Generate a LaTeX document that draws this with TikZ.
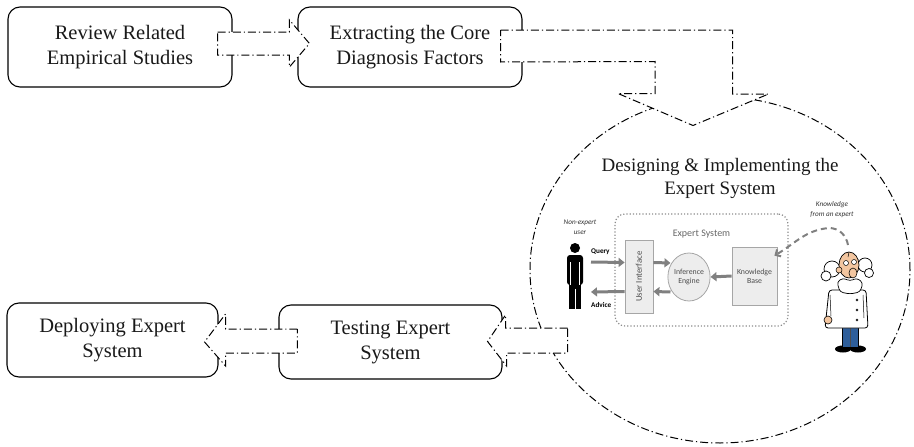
\documentclass[tikz,border=0pt]{standalone}
\usepackage{fontspec}
\setmainfont{Liberation Serif}
\newfontfamily\uifont{Carlito}
\usetikzlibrary{arrows.meta, positioning, shapes.geometric}
\definecolor{skin}{HTML}{F3C6A0}
\definecolor{jeans}{HTML}{2E5E9A}
\tikzset{
    stage/.style={
        rectangle,
        draw=black,
        rounded corners=12pt,
        line width=1.1pt,
        align=center,
        inner sep=0pt,
        text=black!90,
        font=\fontsize{20.5}{25}\selectfont
    },
    phase/.style={
        ellipse,
        draw=black,
        line width=1pt,
        dash pattern=on 8pt off 3pt on 1.2pt off 3pt,
        inner sep=0pt
    },
    % hollow block arrows between the stages
    flowarrow/.style={draw=black, fill=white, line width=1pt,
        dash pattern=on 8pt off 3pt on 1.2pt off 3pt},
    esbox/.style={
        rectangle,
        draw=black!35,
        fill=black!7,
        line width=0.8pt,
        inner sep=0pt,
        align=center,
        text=black!70,
        font=\uifont\fontsize{7.8}{9}\selectfont
    },
    esarrow/.style={draw=black!50, line width=3pt, -{Triangle[length=6pt, width=9pt]}},
    eslabel/.style={align=center, inner sep=0pt, font=\uifont\itshape\fontsize{7.2}{10}\selectfont, text=black!80}
}

\begin{document}
\begin{tikzpicture}[x=1pt, y=-1pt]
    \useasboundingbox (0,0) rectangle (914,447);

    \node[stage, minimum width=224pt, minimum height=80pt] (review) at (120,47) {Review Related\\Empirical Studies};
    \node[stage, minimum width=224pt, minimum height=80pt] (extract) at (410,47) {Extracting the Core\\Diagnosis Factors};
    \node[stage, minimum width=211pt, minimum height=74pt] (deploy) at (112.5,340) {Deploying Expert\\System};
    \node[stage, minimum width=223pt, minimum height=74pt] (testing) at (390.5,342) {Testing Expert\\System};

    \node[phase, minimum width=380pt, minimum height=346pt] (design) at (720,270) {};
    \node[align=center, font=\fontsize{19}{23}\selectfont, text=black!90] (designtitle) at (720,178)
        {Designing \& Implementing the\\Expert System};

    % expert system sketch inside the phase
    \node[draw=black!45, dotted, line width=1.2pt, rounded corners=10pt,
          minimum width=173pt, minimum height=112pt] (es) at (701.5,270) {};
    \node[font=\uifont\fontsize{10}{12}\selectfont, text=black!60, below=16pt of es.north, inner sep=0pt] (estitle) {Expert System};
    \node[esbox, minimum width=28pt, minimum height=73pt] (ui) at (639,276.5)
        {\rotatebox{90}{\fontsize{8.8}{10}\selectfont User Interface}};
    \node[esbox, ellipse, minimum width=38pt, minimum height=48pt] (ie) at (689,277) {Inference\\Engine};
    \node[esbox, minimum width=45pt, minimum height=58pt] (kb) at (754.5,276) {Knowledge\\Base};

    % non-expert user
    \coordinate (user) at (575,276);
    \fill (575,248) circle (5);
    \fill[rounded corners=3pt] (567,255) rectangle (583,285);
    \fill (569,283) rectangle (581,309);
    \draw[white, line width=0.6pt] (570.5,262) -- (570.5,285) (579.5,262) -- (579.5,285) (575,289) -- (575,309);
    \node[eslabel] (usertag) at (580,227) {Non-expert\\user};
    \node[font=\uifont\bfseries\fontsize{7.2}{8}\selectfont, anchor=west, inner sep=0pt] (query) at (591,252) {Query};
    \node[font=\uifont\bfseries\fontsize{7.2}{8}\selectfont, anchor=west, inner sep=0pt] (advice) at (591,305) {Advice};

    \draw[esarrow] ([shift={(16,-14)}]user) -- ([yshift=14pt]ui.west);
    \draw[esarrow] ([yshift=-15pt]ui.west) -- ([shift={(16,16)}]user);
    \draw[esarrow] ([yshift=14pt]ui.east) -- ([shift={(3,-14)}]ie.west);
    \draw[esarrow] ([shift={(3,15)}]ie.west) -- ([yshift=-15pt]ui.east);
    \draw[esarrow] (kb.west) -- (ie.east);

    % the expert
    \coordinate (expert) at (848,245);
    \node[eslabel] (experttag) at (832,209.5) {Knowledge\\from an expert};
    \draw[draw=black!50, line width=2pt, dash pattern=on 6pt off 4pt, -{Straight Barb[length=4pt, width=8pt]}]
        (expert) to[out=100, in=0] (829,228) to[out=185, in=30] ([shift={(-3,9)}]kb.north east);
    \fill (843,349) ellipse (8 and 3.5);
    \fill (858,349) ellipse (8 and 3.5);
    \filldraw[fill=jeans, draw=black, line width=0.5pt] (842,326) rectangle (858,347);
    \draw[black!70, line width=0.5pt] (850,328) -- (850,347);
    \filldraw[fill=white, draw=black, line width=0.7pt] (832,269) circle (8);
    \filldraw[fill=white, draw=black, line width=0.7pt] (826,276) circle (5);
    \filldraw[fill=white, draw=black, line width=0.7pt] (865,265) circle (7);
    \filldraw[fill=white, draw=black, line width=0.7pt] (869,273) circle (4.5);
    \filldraw[fill=white, draw=black, line width=0.8pt, rounded corners=3pt]
        (829,290) -- (866,290) -- (868,328) -- (825,328) -- cycle;
    \draw[line width=0.5pt] (830,295) -- (831,316) (863,295) -- (864,318);
    \foreach \by in {300,310,320}
        \draw[line width=0.5pt] (857,\by) circle (1);
    \filldraw[fill=skin, draw=black, line width=0.6pt] (828,320) circle (4);
    \filldraw[fill=skin, draw=black, line width=0.7pt] (849,265) ellipse (10 and 13);
    \filldraw[fill=skin, draw=black, line width=0.5pt] (839,270) circle (3);
    \filldraw[fill=white, draw=black, line width=0.7pt, rounded corners=3pt]
        (837,282) -- (843,278) -- (850,281) -- (857,278) -- (863,283) -- (860,292) -- (850,294) -- (840,292) -- cycle;
    \filldraw[fill=white, draw=black, line width=0.5pt] (846,263) circle (2.5) (854,262) circle (2.5);
    \filldraw[fill=skin, draw=black, line width=0.6pt] (853,273) ellipse (4 and 5);
    \draw[line width=0.5pt] (849,252) -- (848,257);

    % block arrows
    \draw[flowarrow] ([shift={(-15,-15)}]review.east) -- ([shift={(-8,-15)}]extract.west) -- ++(0,-12)
        -- ([shift={(12,-3.5)}]extract.west) -- ([shift={(-8,20)}]extract.west) -- ++(0,-12)
        -- ([shift={(-15,8)}]review.east) -- cycle;
    \draw[flowarrow] ([shift={(-22,-17)}]extract.east) -- ++(232,0) -- ++(0,64) -- ++(36,0)
        -- ([shift={(-27,29)}]design.north) -- ++(-75,-32) -- ++(37,0) -- ++(0,-32)
        -- ([shift={(-22,15)}]extract.east) -- cycle;
    \draw[flowarrow] ([shift={(38,58)}]design.west) -- ++(-62,0) -- ++(0,-13)
        -- ([shift={(-15,-0.5)}]testing.east) -- ++(19,24.5) -- ++(0,-13)
        -- ([shift={(38,83)}]design.west) -- cycle;
    \draw[flowarrow] ([shift={(19,-13)}]testing.west) -- ([shift={(7,-11)}]deploy.east) -- ++(0,-15)
        -- ([shift={(-14,2)}]deploy.east) -- ([shift={(7,26)}]deploy.east) -- ++(0,-13)
        -- ([shift={(19,11)}]testing.west) -- cycle;

\end{tikzpicture}
\end{document}
